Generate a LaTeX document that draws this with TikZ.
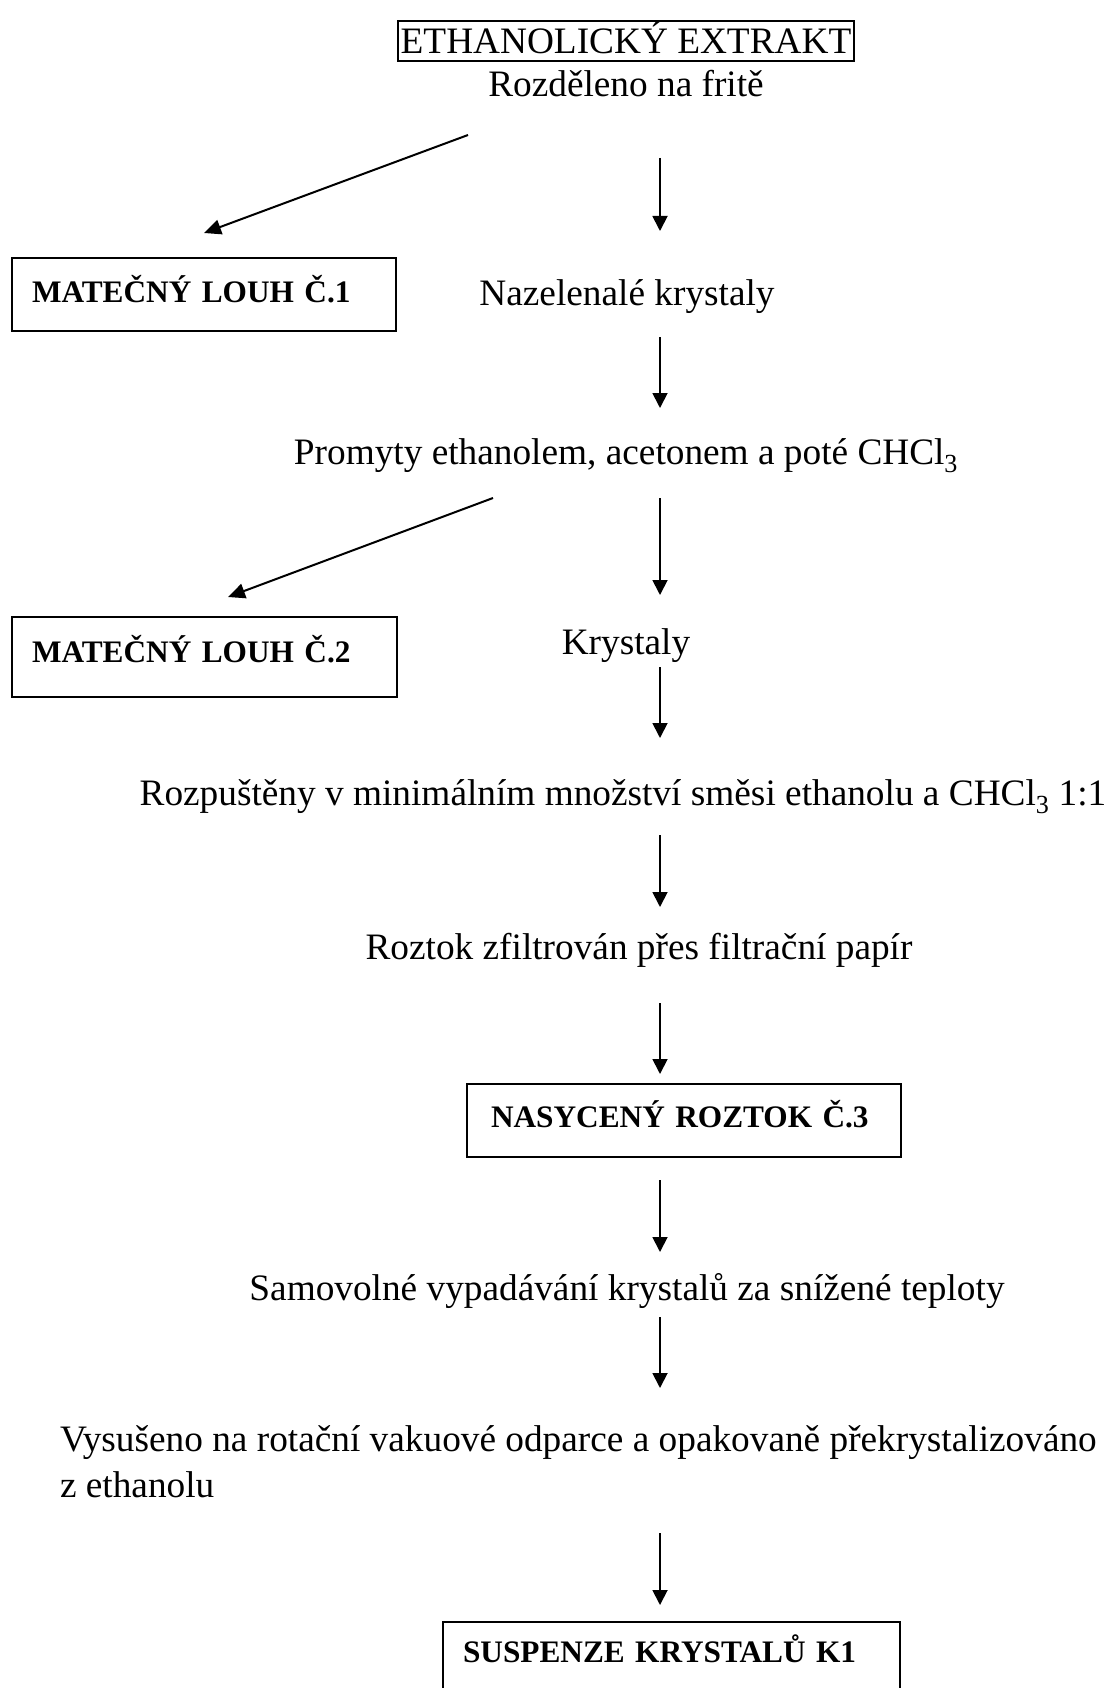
\documentclass[tikz,border=0pt]{standalone}
\usepackage{fontspec}
\setmainfont{Liberation Serif}
\usetikzlibrary{arrows.meta}
\begin{document}
\begin{tikzpicture}[x=1pt,y=-1pt,
  txt/.style={font=\fontsize{37.3}{43}\selectfont, inner sep=0pt, outer sep=0pt, anchor=base},
  txtl/.style={txt, anchor=base west},
  bbox/.style={draw, line width=2pt, font=\fontsize{31.3}{36}\selectfont\bfseries, inner ysep=0pt, outer sep=0pt, anchor=base west, align=left},
  arr/.style={line width=1.8pt, -{Triangle[width=15pt,length=15pt]}},
  diag/.style={line width=2pt, -{Triangle[width=15pt,length=17pt]}}]
\useasboundingbox (0,0) rectangle (1108,1688);
% text nodes
\node[txt, draw, line width=2.2pt, inner xsep=3pt, text height=33pt, text depth=7pt] (ext) at (626,54) {ETHANOLICKÝ EXTRAKT};
\node[txt] (roz) at (626,97) {Rozděleno na fritě};
\node[txt] (naz) at (627,305) {Nazelenalé krystaly};
\node[txt] (pro) at (626,464) {Promyty ethanolem, acetonem a poté CHCl\textsubscript{3}};
\node[txt] (kry) at (626,654) {Krystaly};
\node[txt] (rozp) at (623,805) {Rozpuštěny v minimálním množství směsi ethanolu a CHCl\textsubscript{3} 1:1};
\node[txt] (rozt) at (639,959) {Roztok zfiltrován přes filtrační papír};
\node[txt] (samo) at (627,1300) {Samovolné vypadávání krystalů za snížené teploty};
\node[txtl] (vys1) at (60,1451) {Vysušeno na rotační vakuové odparce a opakovaně překrystalizováno};
\node[txtl] (vys2) at (60,1497) {z ethanolu};
% boxes
\node[bbox, text width=344pt, inner xsep=20pt, text height=44pt, text depth=29pt] (ml1) at (12,302) {MATEČNÝ LOUH Č.1};
\node[bbox, text width=345pt, inner xsep=20pt, text height=45pt, text depth=35pt] (ml2) at (12,662) {MATEČNÝ LOUH Č.2};
\node[bbox, text width=386pt, inner xsep=24pt, text height=43pt, text depth=30pt] (nas) at (467,1127) {NASYCENÝ ROZTOK Č.3};
\node[bbox, text width=417pt, inner xsep=20pt, text height=40pt, text depth=60pt] (sus) at (443,1662) {SUSPENZE KRYSTALŮ K1};
% arrow end points
\coordinate (a1s) at (660,158);  \coordinate (a1e) at (660,231);
\coordinate (a2s) at (660,337);  \coordinate (a2e) at (660,408);
\coordinate (a3s) at (660,498);  \coordinate (a3e) at (660,595);
\coordinate (a4s) at (660,667);  \coordinate (a4e) at (660,738);
\coordinate (a5s) at (660,835);  \coordinate (a5e) at (660,907);
\coordinate (a6s) at (660,1003); \coordinate (a6e) at (660,1074);
\coordinate (a7s) at (660,1180); \coordinate (a7e) at (660,1252);
\coordinate (a8s) at (660,1317); \coordinate (a8e) at (660,1388);
\coordinate (a9s) at (660,1533); \coordinate (a9e) at (660,1605);
\coordinate (d1s) at (468,135);  \coordinate (d1e) at (204,233);
\coordinate (d2s) at (493,498);  \coordinate (d2e) at (228,597);
% arrows
\foreach \i in {1,...,9} {\draw[arr] (a\i s) -- (a\i e);}
\draw[diag] (d1s) -- (d1e);
\draw[diag] (d2s) -- (d2e);
\end{tikzpicture}
\end{document}
